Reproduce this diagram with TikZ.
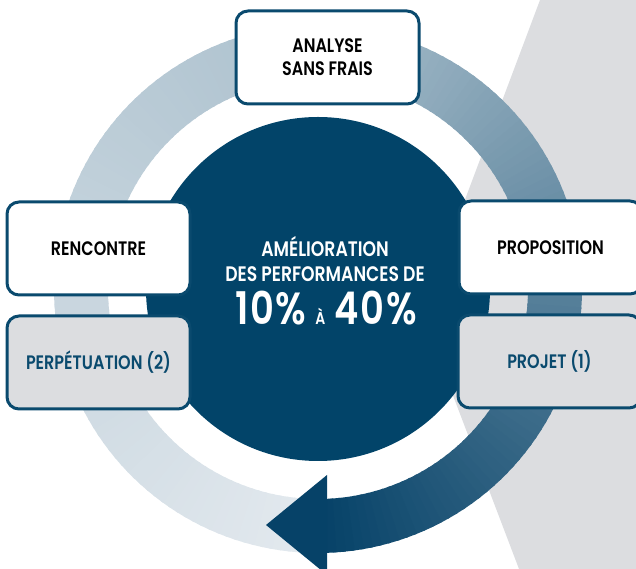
\documentclass[tikz,border=0pt]{standalone}
\usepackage{fontspec}
\setmainfont{Poppins}[FakeStretch=0.82,BoldFont={Poppins SemiBold}]
\definecolor{ringLight}{RGB}{228,234,239}
\definecolor{ringMid}{RGB}{172,193,206}
\definecolor{ringDark}{RGB}{6,66,104}
\definecolor{coreBlue}{RGB}{2,68,105}
\definecolor{panelGray}{RGB}{220,221,224}
\definecolor{edgeBlue}{RGB}{10,74,110}

\begin{document}
\begin{tikzpicture}
[x=1pt,y=1pt,
  boxDecorate/.style={draw=edgeBlue,line width=3pt,rounded corners=12pt,
    minimum width=183pt,minimum height=93pt,align=center,
    font=\fontsize{19.5}{23}\selectfont\bfseries},
  boxWhite/.style={boxDecorate,fill=white,text=black},
  boxGray/.style={boxDecorate,fill=panelGray,text=edgeBlue},
  coreText/.style={text=white,anchor=base,inner sep=0pt}]
\useasboundingbox (0,0) rectangle (636,569);
\clip (0,0) rectangle (636,569);
%% grey panel behind
\fill[panelGray] (540,569) -- (422,255) -- (519,0) -- (636,0) -- (636,569) -- cycle;
%% ring with its shading, clockwise from light to dark
\begin{scope}[shift={(318,280)}]
\foreach \i in {0,...,179}
{
  \pgfmathsetmacro{\a}{-88-2*\i}
  \pgfmathsetmacro{\b}{\a-2.6}
  \ifnum\i<90
    \pgfmathsetmacro{\p}{100*\i/90}
    \colorlet{segColor}{ringMid!\p!ringLight}
  \else
    \pgfmathsetmacro{\p}{100*(\i-90)/90}
    \colorlet{segColor}{ringDark!\p!ringMid}
  \fi
  \fill[segColor] (\a:264) arc[start angle=\a,end angle=\b,radius=264]
    -- (\b:210) arc[start angle=\b,end angle=\a,radius=210] -- cycle;
}
\end{scope}
%% arrow head
\fill[ringDark] (327,94) -- (266,44) -- (327,-6) -- cycle;
%% centre
\node (core) at (318,280) [circle,fill=coreBlue,minimum size=344pt,inner sep=0pt] {};
\node (coreLineA) at (325,312) [coreText,font=\fontsize{21}{24}\selectfont\bfseries] {AMÉLIORATION};
\node (coreLineB) at (325,287) [coreText,font=\fontsize{21}{24}\selectfont\bfseries] {DES PERFORMANCES DE};
\node (coreLineC) at (326,244) [coreText,font=\fontsize{45}{45}\selectfont\bfseries\addfontfeature{LetterSpace=4}]
  {10\%\hspace{9pt}{\fontsize{17}{17}\selectfont À}\hspace{9pt}40\%};
%% boxes
\foreach \nodename/\x/\y/\boxstyle/\label in {
  analyse/327.5/511.5/boxWhite/{ANALYSE\\SANS FRAIS},
  rencontre/98.5/320.5/boxWhite/RENCONTRE,
  perpetuation/98.5/206.5/boxGray/PERPÉTUATION (2),
  proposition/550.5/321.5/boxWhite/PROPOSITION,
  projet/549.5/207.5/boxGray/PROJET (1)}
{
  \node (\nodename) at (\x,\y) [\boxstyle] {\label};
}
\end{tikzpicture}
\end{document}
